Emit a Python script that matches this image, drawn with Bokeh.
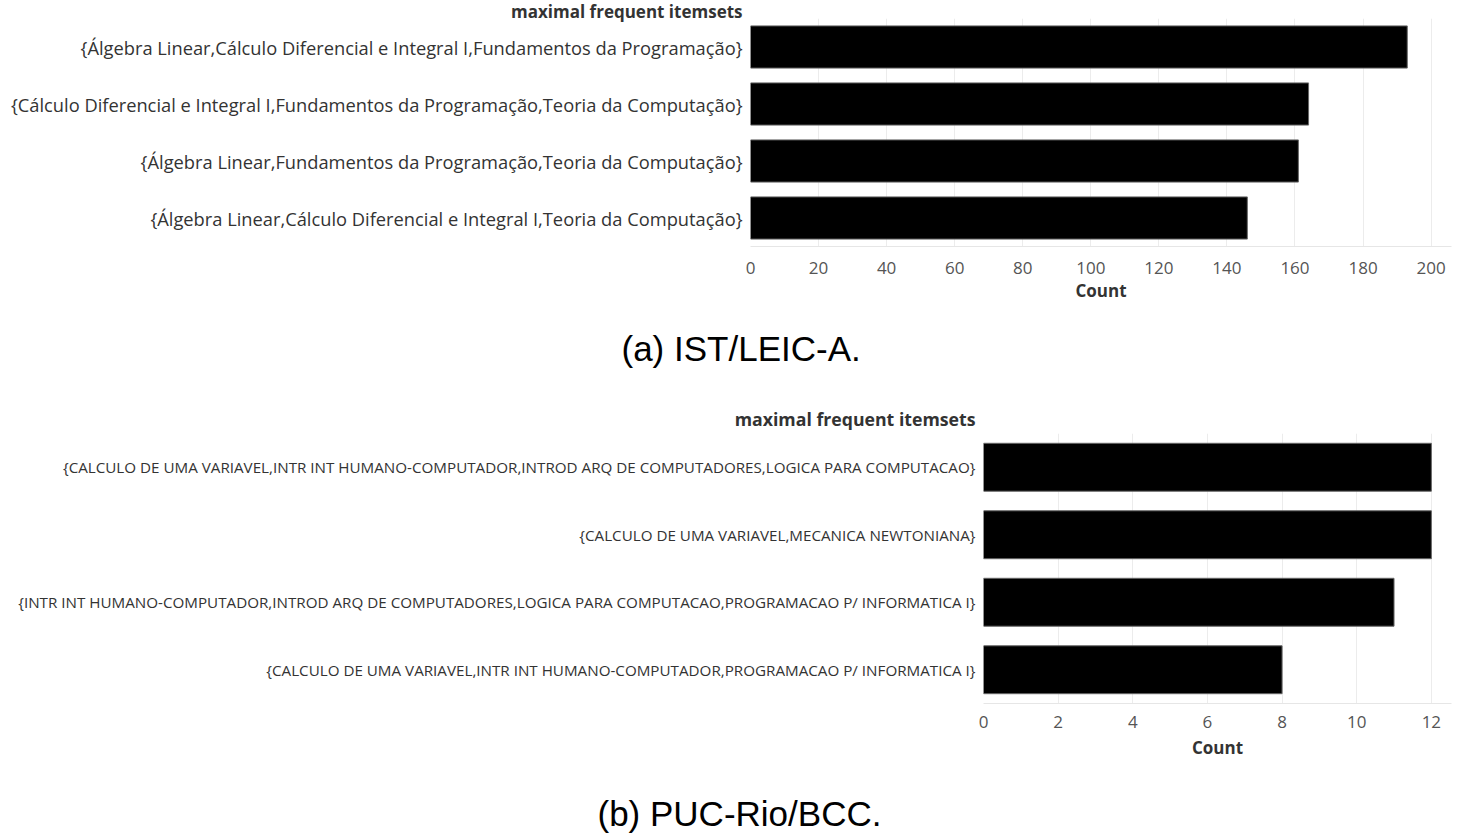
from bokeh.plotting import figure
from bokeh.models import Range1d, FactorRange, Title, FixedTicker, ColumnDataSource
from bokeh.embed import file_html
from bokeh.resources import INLINE

# ---------------- data ----------------
ist_itemsets = [
    "{Álgebra Linear,Cálculo Diferencial e Integral I,Fundamentos da Programação}",
    "{Cálculo Diferencial e Integral I,Fundamentos da Programação,Teoria da Computação}",
    "{Álgebra Linear,Fundamentos da Programação,Teoria da Computação}",
    "{Álgebra Linear,Cálculo Diferencial e Integral I,Teoria da Computação}",
]
ist_counts = [193, 164, 161, 146]
ist_ticks = [0, 20, 40, 60, 80, 100, 120, 140, 160, 180, 200]

puc_itemsets = [
    "{CALCULO DE UMA VARIAVEL,INTR INT HUMANO-COMPUTADOR,INTROD ARQ DE COMPUTADORES,LOGICA PARA COMPUTACAO}",
    "{CALCULO DE UMA VARIAVEL,MECANICA NEWTONIANA}",
    "{INTR INT HUMANO-COMPUTADOR,INTROD ARQ DE COMPUTADORES,LOGICA PARA COMPUTACAO,PROGRAMACAO P/ INFORMATICA I}",
    "{CALCULO DE UMA VARIAVEL,INTR INT HUMANO-COMPUTADOR,PROGRAMACAO P/ INFORMATICA I}",
]
puc_counts = [12, 12, 11, 8]
puc_ticks = [0, 2, 4, 6, 8, 10, 12]

header = "maximal frequent itemsets"
axis_title = "Count"
captions = ["(a) IST/LEIC-A.", "(b) PUC-Rio/BCC."]

LABEL_FONT = "Open Sans"
WIDTH = 1455
FRAME_RIGHT = 1451


def make_chart(items, counts, ticks, xmax, height, left_border, top_border,
               frame_h, bar_h, ylab_size, xlab_size, title_size, title_standoff,
               caption, caption_left, caption_gap, tick_standoff, axis_standoff):
    frame_w = FRAME_RIGHT - left_border
    p = figure(width=WIDTH, height=height,
               x_range=Range1d(0, xmax),
               y_range=FactorRange(factors=list(reversed(items)), range_padding=0),
               output_backend="svg", toolbar_location=None, tools="")
    p.min_border_left = left_border
    p.min_border_right = WIDTH - FRAME_RIGHT
    p.min_border_top = top_border
    p.min_border_bottom = height - top_border - frame_h
    p.outline_line_color = None
    p.background_fill_color = "white"
    p.border_fill_color = "white"

    src = ColumnDataSource(dict(item=items, count=counts))
    p.hbar(y="item", right="count", left=0, height=bar_h, source=src,
           fill_color="black", line_color="#666666", line_width=1)

    # y axis (itemset labels)
    ya = p.yaxis[0]
    ya.axis_line_color = None
    ya.major_tick_line_color = None
    ya.minor_tick_line_color = None
    ya.major_tick_in = 0
    ya.major_tick_out = 0
    ya.major_label_standoff = 8
    ya.major_label_text_font = LABEL_FONT
    ya.major_label_text_font_size = f"{ylab_size}px"
    ya.major_label_text_color = "#333333"

    # x axis
    xa = p.xaxis[0]
    xa.ticker = FixedTicker(ticks=ticks)
    xa.axis_line_color = "#e6e6e6"
    xa.major_tick_line_color = None
    xa.minor_tick_line_color = None
    xa.major_tick_in = 0
    xa.major_tick_out = 0
    xa.major_label_standoff = tick_standoff
    xa.major_label_text_font = LABEL_FONT
    xa.major_label_text_font_size = f"{xlab_size}px"
    xa.major_label_text_color = "#555555"
    xa.axis_label = axis_title
    xa.axis_label_text_font = LABEL_FONT
    xa.axis_label_text_font_size = f"{xlab_size}px"
    xa.axis_label_text_font_style = "bold"
    xa.axis_label_text_color = "#333333"
    xa.axis_label_standoff = axis_standoff

    p.xgrid.grid_line_color = "#ececec"
    p.xgrid.grid_line_width = 1
    p.ygrid.grid_line_color = None

    # header, right-aligned just left of the plotting frame
    p.add_layout(Title(text=header, align="right", offset=frame_w + 8,
                       standoff=title_standoff, vertical_align="bottom",
                       text_font=LABEL_FONT, text_font_style="bold",
                       text_font_size=f"{title_size}px", text_color="#333333"),
                 "above")
    # spacer then caption below the axis
    p.add_layout(Title(text=" ", standoff=caption_gap, text_font_size="1px"), "below")
    p.add_layout(Title(text=caption, align="left", offset=caption_left - left_border,
                       standoff=0, vertical_align="top",
                       text_font="Liberation Sans", text_font_style="normal",
                       text_font_size="35px", text_color="black"),
                 "below")
    return p


p1 = make_chart(ist_itemsets, ist_counts, ist_ticks, 206, 385, 750, 18, 228, 0.74,
                18.3, 17, 17, -8, captions[0], 621, 21, 15, 2)
p2 = make_chart(puc_itemsets, puc_counts, puc_ticks, 12.54, 451, 983, 48, 270, 0.71,
                15.2, 17, 17.7, 6, captions[1], 597, 29, 12, 5)

open("out.html", "w").write(file_html([p1, p2], INLINE))
